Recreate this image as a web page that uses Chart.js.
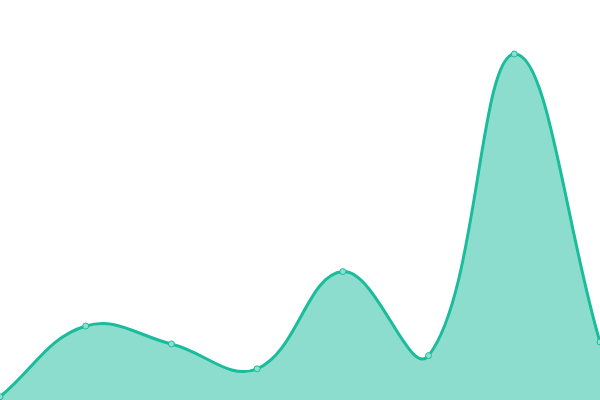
<!DOCTYPE html>
<html>
<head>
<meta charset="utf-8">
<script src="https://cdn.jsdelivr.net/npm/chart.js@4"></script>
<style>
  html, body { margin: 0; padding: 0; background: #fff; }
  #wrap { width: 600px; height: 400px; position: relative; }
</style>
</head>
<body>
<div id="wrap"><canvas id="grafico"></canvas></div>
<script>
const labels = ['1', '2', '3', '4', '5', '6', '7', '8'];
const values = [0.8, 18.5, 14, 7.8, 32.1, 11.1, 86.5, 14.5];

document.addEventListener('DOMContentLoaded', function() {
    const ctx = document.getElementById('grafico').getContext('2d');
    new Chart(ctx, {
        type: 'line',
        data: {
            labels: labels,
            datasets: [{
                data: values,
                fill: true,
                tension: 0.4,
                borderColor: '#1abc9c',
                backgroundColor: 'rgba(26, 188, 156, 0.5)',
                borderWidth: 3,
                pointRadius: 3,
                pointBorderWidth: 1,
                pointBackgroundColor: '#8be0cf',
                pointBorderColor: '#1abc9c'
            }]
        },
        options: {
            responsive: true,
            maintainAspectRatio: false,
            animation: false,
            layout: { padding: 0, autoPadding: false },
            plugins: {
                legend: { display: false },
                tooltip: { enabled: false }
            },
            scales: {
                x: { display: false },
                y: { display: false, min: 0, max: 100 }
            }
        }
    });
});
</script>
</body>
</html>
